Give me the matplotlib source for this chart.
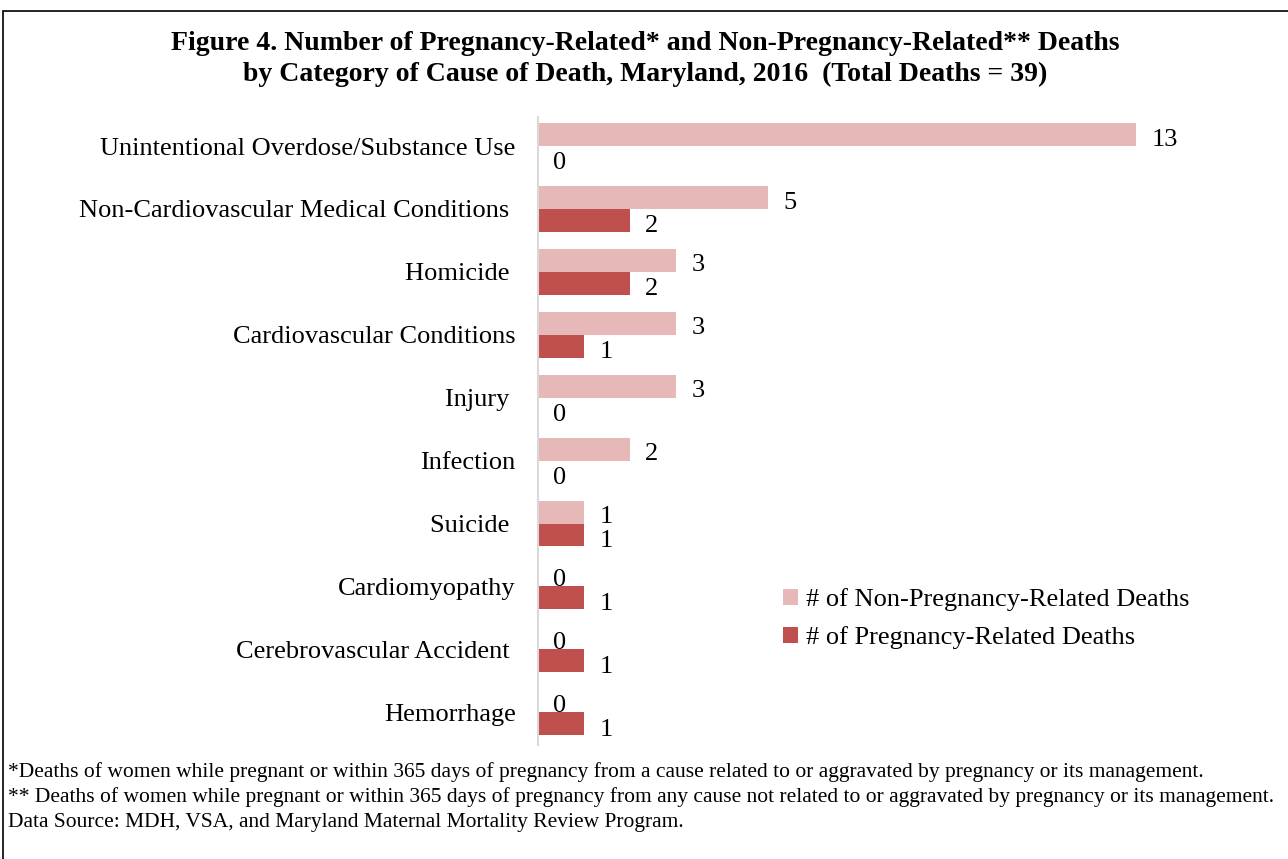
import numpy as np
import matplotlib.pyplot as plt
from matplotlib.patches import Rectangle

plt.rcParams['font.family'] = ['Liberation Serif', 'DejaVu Serif']

categories = ["Unintentional Overdose/Substance Use", "Non-Cardiovascular Medical Conditions ",
              "Homicide ", "Cardiovascular Conditions", "Injury ", "Infection",
              "Suicide ", "Cardiomyopathy", "Cerebrovascular Accident ", "Hemorrhage"]
non_preg = [13, 5, 3, 3, 3, 2, 1, 0, 0, 0]
preg = [0, 2, 2, 1, 0, 0, 1, 1, 1, 1]

title = ("Figure 4. Number of Pregnancy-Related* and Non-Pregnancy-Related** Deaths\n"
         "by Category of Cause of Death, Maryland, 2016  (Total Deaths = 39)")
notes = ["*Deaths of women while pregnant or within 365 days of pregnancy from a cause related to or aggravated by pregnancy or its management.",
         "** Deaths of women while pregnant or within 365 days of pregnancy from any cause not related to or aggravated by pregnancy or its management.",
         "Data Source: MDH, VSA, and Maryland Maternal Mortality Review Program."]

c_non = "#E6B9B8"
c_preg = "#C0504D"

W, H = 1288, 859
fig = plt.figure(figsize=(W / 100, H / 100), dpi=100)

# frame around the figure (left and top visible)
fig.patches.append(Rectangle((3 / W, -0.1), 1.2, 1 - 11 / H + 0.1, transform=fig.transFigure,
                             fill=False, edgecolor="black", linewidth=1.2))

ax_top, ax_bot = 117, 745
ax = fig.add_axes([538 / W, 1 - ax_bot / H, 690 / W, (ax_bot - ax_top) / H])

y = np.arange(len(categories))
h = 0.365
ax.barh(y - h / 2, non_preg, height=h, color=c_non, label="# of Non-Pregnancy-Related Deaths")
ax.barh(y + h / 2, preg, height=h, color=c_preg, label="# of Pregnancy-Related Deaths")

for i in range(len(categories)):
    ax.annotate(str(non_preg[i]), (non_preg[i], y[i] - h / 2), xytext=(11, -8),
                textcoords="offset points", ha="left", va="baseline", fontsize=19)
    ax.annotate(str(preg[i]), (preg[i], y[i] + h / 2), xytext=(11, -8.5),
                textcoords="offset points", ha="left", va="baseline", fontsize=19)

ax.set_xlim(0, 15)
ax.set_ylim(9.52, -0.461)
ax.set_yticks(y)
ax.set_yticklabels(categories, fontsize=19)
ax.tick_params(axis="y", length=0, pad=16)
ax.set_xticks([])
for s in ["top", "right", "bottom"]:
    ax.spines[s].set_visible(False)
ax.spines["left"].set_color("#d9d9d9")
ax.spines["left"].set_linewidth(1.5)

ax.legend(loc="upper left", bbox_to_anchor=(0.321, 0.287), frameon=False, fontsize=19,
          handlelength=0.55, handleheight=0.55, handletextpad=0.3, labelspacing=0.55)

fig.text(645 / W, 1 - 59 / H, title, ha="center", va="center", fontsize=20,
         fontweight="bold", linespacing=1.3)

for k, line in enumerate(notes):
    fig.text(8 / W, 1 - (772 + 25 * k) / H, line, ha="left", va="center", fontsize=15.5)

fig.savefig("out.png", dpi=100)
